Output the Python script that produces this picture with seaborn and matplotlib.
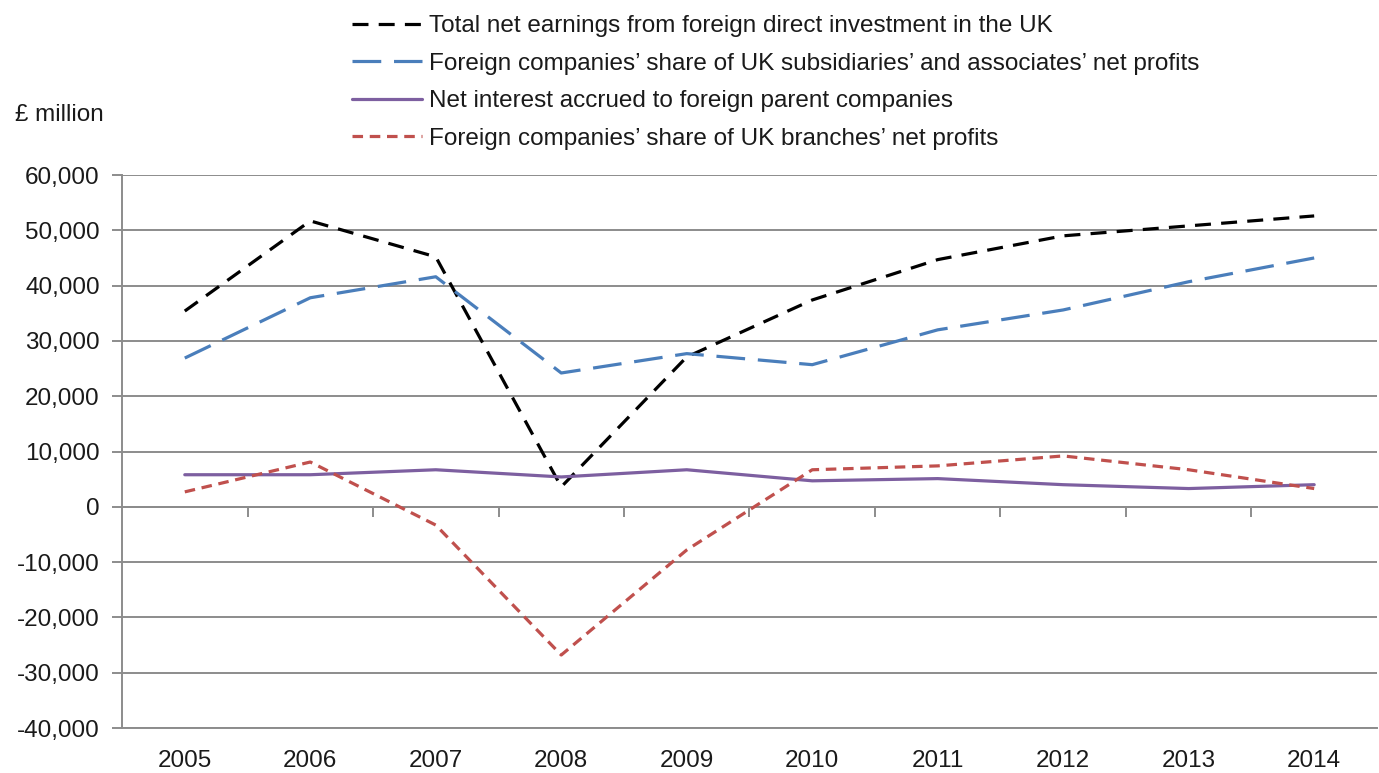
import matplotlib
matplotlib.use("Agg")
import matplotlib.pyplot as plt
from matplotlib.ticker import FuncFormatter, FixedLocator
import seaborn as sns
import pandas as pd
import numpy as np

years = [2005, 2006, 2007, 2008, 2009, 2010, 2011, 2012, 2013, 2014]
total = [35400, 51700, 45200, 3600, 27100, 37400, 44700, 49000, 50800, 52600]
subsidiaries = [26900, 37800, 41600, 24200, 27700, 25700, 32000, 35600, 40700, 45000]
interest = [5800, 5800, 6700, 5400, 6700, 4700, 5100, 4000, 3300, 4000]
branches = [2700, 8100, -3300, -26800, -7800, 6700, 7400, 9200, 6700, 3300]

labels = [
    "Total net earnings from foreign direct investment in the UK",
    "Foreign companies\u2019 share of UK subsidiaries\u2019 and associates\u2019 net profits",
    "Net interest accrued to foreign parent companies",
    "Foreign companies\u2019 share of UK branches\u2019 net profits",
]
series = [total, subsidiaries, interest, branches]

df = pd.DataFrame({
    "year": years * 4,
    "value": sum(series, []),
    "series": sum([[l] * len(years) for l in labels], []),
})

sns.set_theme(style="white")
plt.rcParams["font.family"] = ["Liberation Sans", "DejaVu Sans"]

FS = 17.5
palette = {labels[0]: "#000000", labels[1]: "#4A7EBB",
           labels[2]: "#7D5FA0", labels[3]: "#C0504D"}
dashes = {labels[0]: (5, 3.2), labels[1]: (9, 4), labels[2]: "",
          labels[3]: (3.3, 2.1)}

fig = plt.figure(figsize=(13.79, 7.73), dpi=100)
ax = fig.add_axes([0.0885, 0.0582, 0.91, 0.7154])

sns.lineplot(data=df, x="year", y="value", hue="series", style="series",
             palette=palette, dashes=dashes, linewidth=2.3, ax=ax,
             hue_order=labels, style_order=labels, zorder=3)

ax.set_xlim(years[0] - 0.5, years[-1] + 0.5)
ax.set_ylim(-40000, 60000)
ax.yaxis.set_major_locator(FixedLocator(np.arange(-40000, 60001, 10000)))
ax.yaxis.set_major_formatter(FuncFormatter(lambda v, p: f"{v:,.0f}"))
ax.set_xticks(years)
ax.set_xticklabels([str(y) for y in years])
ax.grid(axis="y", color="#8C8C8C", linewidth=1.4)
ax.grid(axis="x", visible=False)
ax.set_xlabel("")
ax.set_ylabel("")

for s in ["top", "right"]:
    ax.spines[s].set_visible(False)
for s in ["left", "bottom"]:
    ax.spines[s].set_color("#8C8C8C")
    ax.spines[s].set_linewidth(1.4)

ax.tick_params(axis="y", which="major", direction="out", length=7, width=1.4,
               color="#8C8C8C", pad=9, labelsize=FS, labelcolor="#1a1a1a", left=True)
ax.tick_params(axis="x", which="major", length=0, pad=16, labelsize=FS,
               labelcolor="#1a1a1a")

# zero-line axis with ticks at category boundaries
zero_pos = (0 - (-40000)) / (60000 - (-40000))
sec = ax.secondary_xaxis(zero_pos)
sec.set_xticks([y + 0.5 for y in years[:-1]])
sec.set_xticklabels([])
sec.tick_params(axis="x", direction="out", length=7, width=1.4, color="#8C8C8C")
sec.spines["bottom"].set_color("#8C8C8C")
sec.spines["bottom"].set_linewidth(1.4)
sec.spines["top"].set_visible(False)

ax.get_legend().remove()
handles, lbls = ax.get_legend_handles_labels()
fig.legend(handles, lbls, loc="upper left", bbox_to_anchor=(352 / 1379, 1 - 15 / 773),
           frameon=False, fontsize=FS, handlelength=2.9, handletextpad=0.27,
           labelspacing=0.64, borderpad=0, borderaxespad=0, labelcolor="#1a1a1a")

fig.text(15 / 1379, 1 - 115 / 773, "\u00a3 million", fontsize=FS, color="#1a1a1a",
         ha="left", va="center")

fig.savefig("out.png", dpi=100)
